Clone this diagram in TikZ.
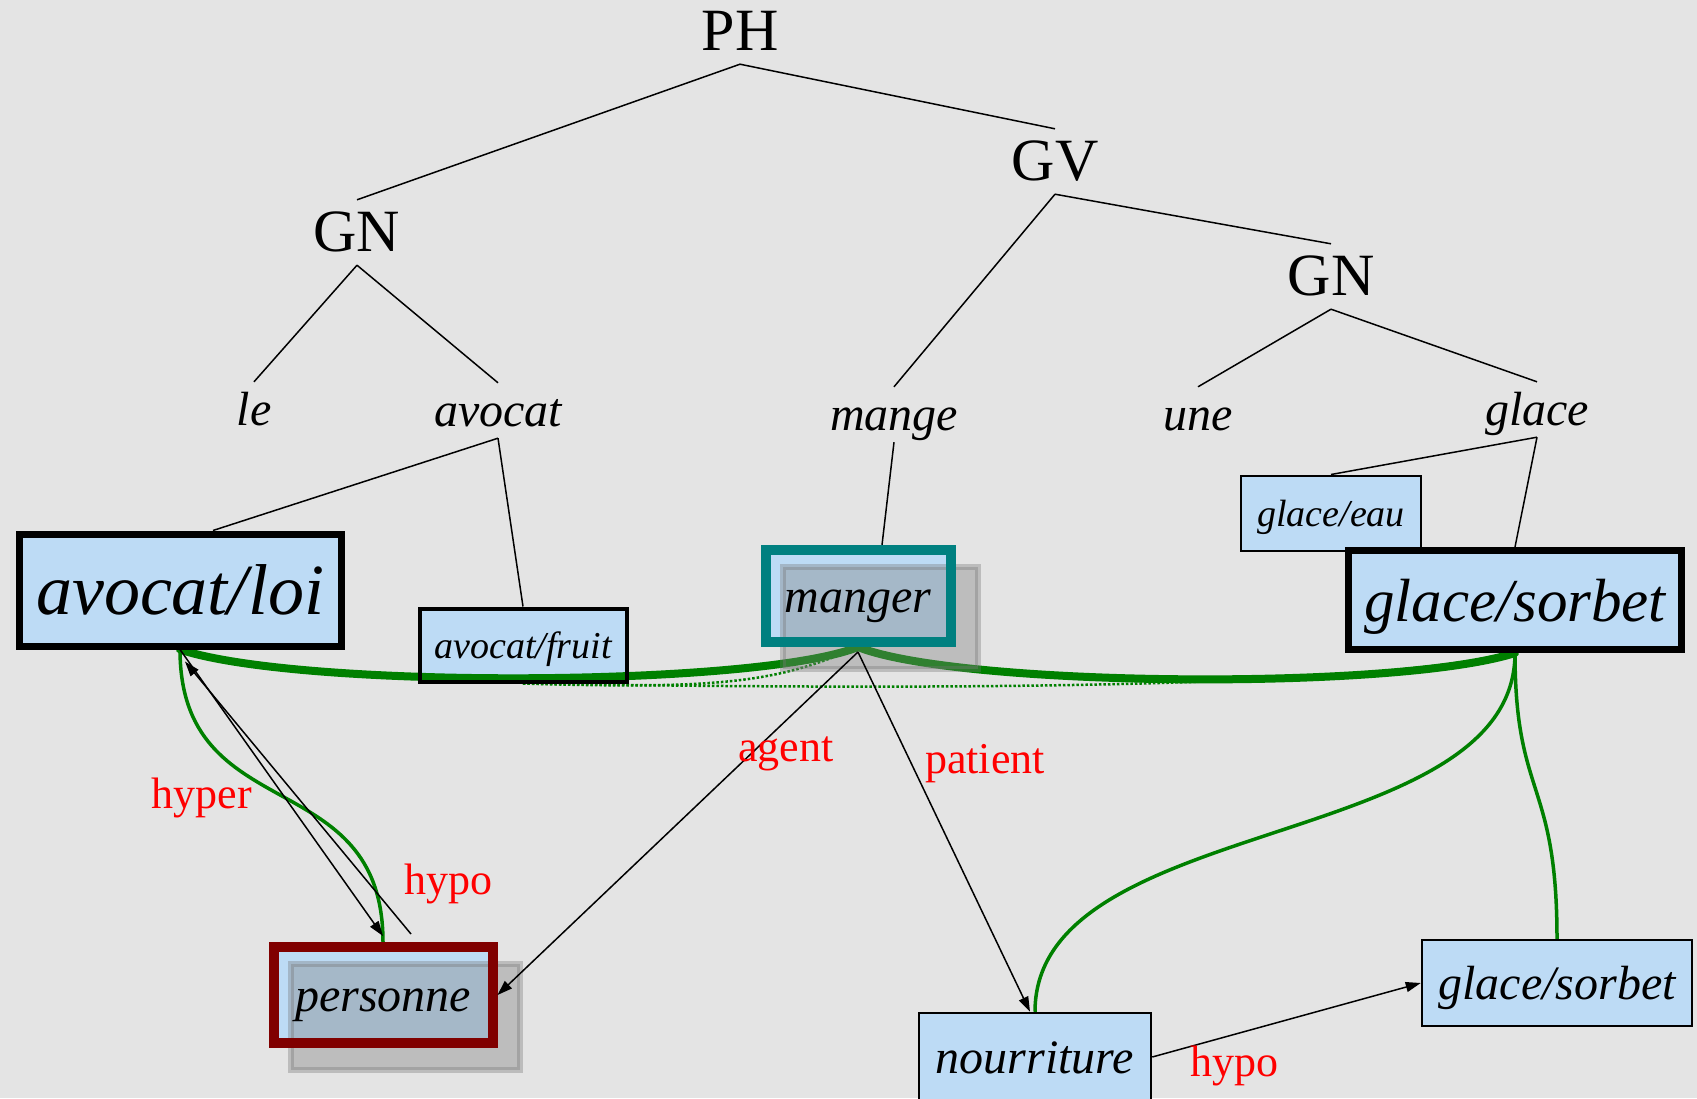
\documentclass[tikz,border=0pt]{standalone}
\usepackage{fontspec}
\setmainfont{Liberation Serif}
\usetikzlibrary{arrows.meta,backgrounds}
\definecolor{marble}{HTML}{E4E4E4}
\definecolor{sensefill}{HTML}{BDDBF5}
\definecolor{semgreen}{HTML}{008000}
\definecolor{mangerteal}{HTML}{008080}
\definecolor{persred}{HTML}{800000}
\pgfdeclarelayer{fills}
\pgfdeclarelayer{lines}
\pgfdeclarelayer{shades}
\pgfsetlayers{background,fills,lines,shades,main}

\begin{document}
\begin{tikzpicture}[x=1pt,y=-1pt,
    cat/.style={font=\fontsize{60}{60}\selectfont,inner sep=0pt,text height=51pt,text depth=14pt,anchor=base},
    word/.style={font=\fontsize{48}{48}\selectfont\itshape,inner sep=0pt,text height=43pt,text depth=12pt,anchor=base},
    sz/.style n args={3}{font=\fontsize{#1}{#1}\selectfont\itshape,text height=#2,text depth=#3},
    sense/.style={draw,fill=sensefill,inner sep=0pt,line width=2.5pt,sz={48}{43pt}{10.5pt}},
    tree/.style={line width=1.5pt},
    arrow/.style={-{Triangle[length=15pt,width=10pt]},line width=1.5pt},
    sem/.style={semgreen,line width=3.5pt},
    semthick/.style={semgreen,line width=8pt,line cap=round},
    semdot/.style={semgreen,line width=2.5pt,dash pattern=on 2.5pt off 2pt},
    rel/.style={red,font=\fontsize{44}{44}\selectfont},
    boxshadow/.style={fill=black!50,fill opacity=0.38,draw=black!55,draw opacity=0.35,line width=6pt},
]
\useasboundingbox (0,0) rectangle (1697,1098);
\begin{pgfonlayer}{background}
\fill[marble] (0,0) rectangle (1697,1098);
\end{pgfonlayer}

% syntactic tree
\node[cat]  (ph)     at (740,50)   {PH};
\node[cat]  (gnA)    at (357,251)  {GN};
\node[cat]  (gv)     at (1055,180) {GV};
\node[cat]  (gnB)    at (1331,295) {GN};
\node[word] (le)     at (254,425)  {le};
\node[word] (avocat) at (498,426)  {avocat};
\node[word] (mange)  at (894,430)  {mange};
\node[word] (une)    at (1198,430) {une};
\node[word] (glace)  at (1537,425) {glace};

% word senses
\node[sense,line width=7pt,minimum width=322pt,minimum height=112pt,sz={72}{65pt}{16pt}] (avloi) at (180,590) {avocat/loi};
\node[sense,fill=none,line width=4pt,minimum width=207pt,minimum height=73pt,sz={38}{34pt}{8pt}] (avfruit) at (523,645) {avocat/fruit};
\node[sense,draw=mangerteal,fill=none,line width=10pt,minimum width=185pt,minimum height=92pt] (manger) at (858,596) {manger};
\node[sense,line width=2pt,minimum width=180pt,minimum height=75pt,sz={38}{34pt}{8pt}] (geau) at (1331,513) {glace/eau};
\node[sense,line width=7pt,minimum width=333pt,minimum height=99pt,sz={61}{55pt}{13pt}] (gsorbet) at (1515,600) {glace/sorbet};
\node[sense,draw=persred,fill=none,line width=10pt,minimum width=219pt,minimum height=96pt] (personne) at (383,995) {personne};
\node[sense,minimum width=232pt,minimum height=88pt] (nourriture) at (1035,1057) {nourriture};
\node[sense,minimum width=270pt,minimum height=86pt,sz={48}{43pt}{10.5pt}] (gsorbetB) at (1557,983) {glace/sorbet};

\begin{pgfonlayer}{fills}
\foreach \n in {avfruit,manger,personne}
  \fill[sensefill] (\n.north west) rectangle (\n.south east);
\end{pgfonlayer}

\begin{pgfonlayer}{lines}
\draw[tree] (ph.south) -- (gnA.north);
\draw[tree] (ph.south) -- (gv.north);
\draw[tree] (gnA.south) -- (le.north);
\draw[tree] (gnA.south) -- (avocat.north);
\draw[tree] (gv.south) -- (mange.north);
\draw[tree] (gv.south) -- (gnB.north);
\draw[tree] (gnB.south) -- (une.north);
\draw[tree] (gnB.south) -- (glace.north);
\draw[tree] (avocat.south) -- ([xshift=33pt]avloi.north);
\draw[tree] (avocat.south) -- (avfruit.north);
\draw[tree] (mange.south) -- ([xshift=24pt]manger.north);
\draw[tree] (glace.south) -- (geau.north);
\draw[tree] (glace.south) -- (gsorbet.north);

% selected senses
\draw[semthick] (avloi.south) .. controls +(120,40) and +(-100,40) .. (manger.south);
\draw[semthick] (manger.south) .. controls +(100,40) and +(-120,38) .. (gsorbet.south);
\draw[semdot] (avfruit.south) .. controls +(200,6) and +(-80,35) .. (manger.south);
\draw[semdot] (avfruit.south) .. controls +(500,8) and +(-150,32) .. (gsorbet.south);
\draw[sem] (avloi.south) .. controls +(0,180) and +(0,-180) .. (personne.north);
\draw[sem] (gsorbet.south) .. controls +(0,200) and +(0,-200) .. (nourriture.north);
\draw[sem] (gsorbet.south) .. controls +(0,146) and +(0,-160) .. (gsorbetB.north);
\end{pgfonlayer}

\begin{pgfonlayer}{shades}
\foreach \n in {manger,personne}
  \draw[boxshadow] ([shift={(22,22)}]\n.north west) rectangle ([shift={(22,22)}]\n.south east);
\end{pgfonlayer}

% relations
\draw[arrow] (avloi.south) -- ([yshift=6pt]personne.north);
\draw[arrow] ([xshift=28pt,yshift=8pt]personne.north) -- ([xshift=5pt,yshift=-12pt]avloi.south);
\draw[arrow] ([yshift=-5pt]manger.south) -- (personne.east);
\draw[arrow] ([yshift=-5pt]manger.south) -- ([xshift=-5pt]nourriture.north);
\draw[arrow] (nourriture.east) -- (gsorbetB.west);

\node[rel] (lhyper)   at (202,798)  {hyper};
\node[rel] (lhypoA)   at (448,884)  {hypo};
\node[rel] (lagent)   at (786,754)  {agent};
\node[rel] (lpatient) at (985,764)  {patient};
\node[rel] (lhypoB)   at (1234,1066) {hypo};
\end{tikzpicture}
\end{document}
